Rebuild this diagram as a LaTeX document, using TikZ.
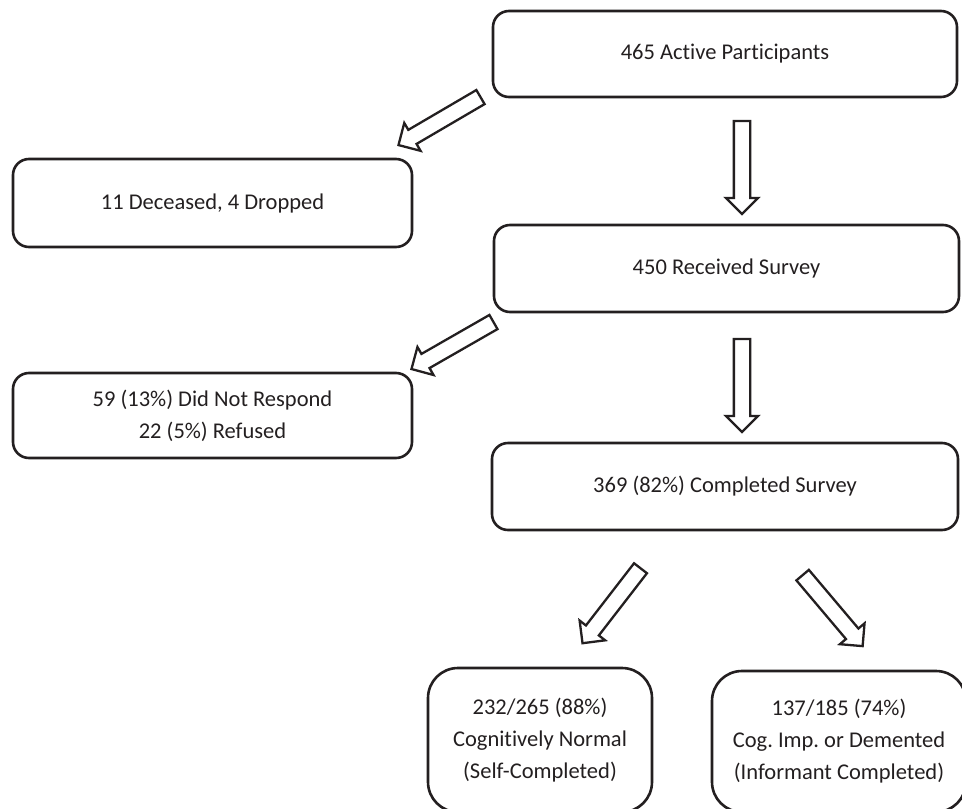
\documentclass[tikz,border=0pt]{standalone}
\usepackage{fontspec}
\setmainfont{Carlito}[Ligatures=NoCommon]
\frenchspacing
\usetikzlibrary{shapes.arrows,calc}
\definecolor{ink}{HTML}{231F20}
\tikzset{
  box/.style={draw=ink, line width=2.6pt, rounded corners=16pt, align=center,
    font=\fontsize{22.5}{32}\selectfont, inner sep=0pt, text=ink},
  bigbox/.style={box, rounded corners=30pt},
  hollow/.style={single arrow, draw=ink, line width=2.3pt, fill=white,
    inner xsep=0pt, inner ysep=7pt, minimum width=0pt,
    single arrow head extend=8pt, single arrow tip angle=90}
}
\newcommand{\hollowarrow}[2]{%
  \path let \p1=($(#2)-(#1)$), \n1={atan2(\y1,\x1)}, \n2={veclen(\x1,\y1)} in
    node[hollow, minimum height=\n2, rotate=\n1] at ($(#1)!0.5!(#2)$) {};}
\begin{document}
\begin{tikzpicture}[x=1pt,y=-1pt]
\useasboundingbox (0,0) rectangle (962,809);
\node[box, minimum width=464pt, minimum height=86pt] (top) at (725,54) {465 Active Participants};
\node[box, minimum width=399pt, minimum height=88pt] (dead) at (212.5,203) {11 Deceased, 4 Dropped};
\node[box, minimum width=465pt, minimum height=87pt] (recv) at (726.5,268.5) {450 Received Survey};
\node[box, minimum width=399pt, minimum height=85pt] (norsp) at (212.5,415.5) {59 (13\%) Did Not Respond\\22 (5\%) Refused};
\node[box, minimum width=466pt, minimum height=87pt] (comp) at (725,486.5) {369 (82\%) Completed Survey};
\node[bigbox, minimum width=224pt, minimum height=144pt] (norm) at (540,740) {232/265 (88\%)\\Cognitively Normal\\(Self-Completed)};
\node[bigbox, minimum width=254pt, minimum height=141pt] (cog) at (839,741.5) {137/185 (74\%)\\Cog. Imp. or Demented\\(Informant Completed)};
\coordinate (a1s) at (484,95);  \coordinate (a1e) at (402,143);
\coordinate (a2s) at (742,117); \coordinate (a2e) at (742,210);
\coordinate (a3s) at (497,320); \coordinate (a3e) at (415,367);
\coordinate (a4s) at (742,335); \coordinate (a4e) at (742,428);
\coordinate (a5s) at (643,565); \coordinate (a5e) at (585,640);
\coordinate (a6s) at (800,572); \coordinate (a6e) at (860,643);
\hollowarrow{a1s}{a1e}
\hollowarrow{a2s}{a2e}
\hollowarrow{a3s}{a3e}
\hollowarrow{a4s}{a4e}
\hollowarrow{a5s}{a5e}
\hollowarrow{a6s}{a6e}
\end{tikzpicture}
\end{document}
